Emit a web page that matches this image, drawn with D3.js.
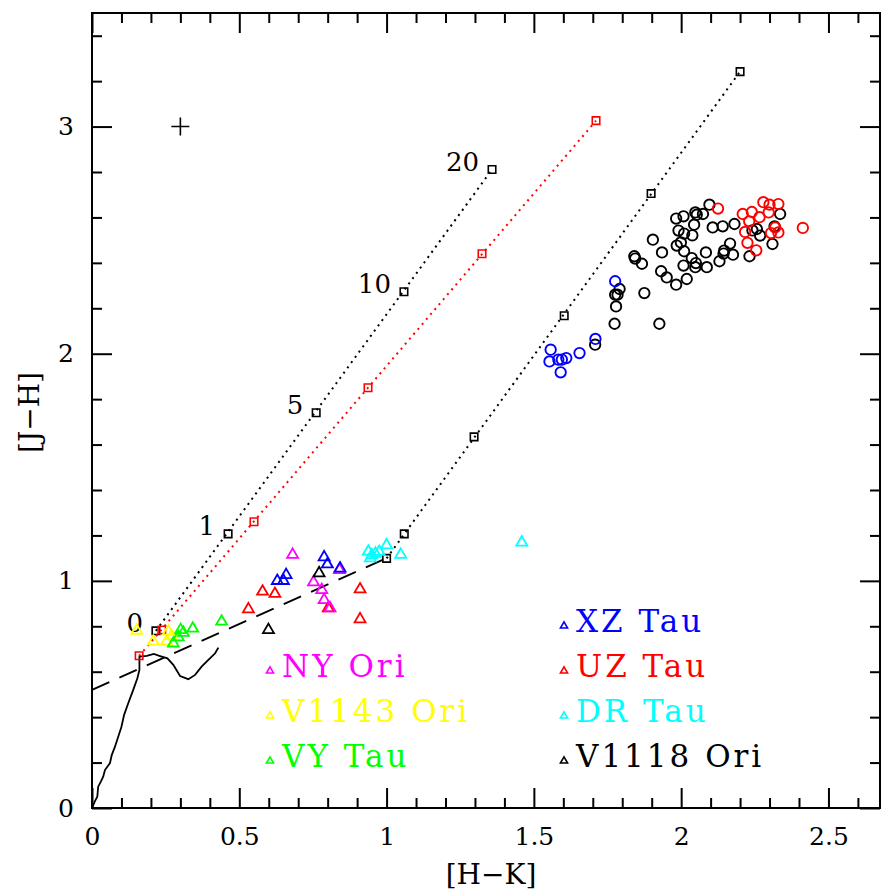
<!DOCTYPE html>
<html>
<head>
<meta charset="utf-8">
<script src="https://cdn.jsdelivr.net/npm/d3@7"></script>
<style>
  body { margin: 0; background: #fff; }
  text { font-family: "DejaVu Serif", serif; }
</style>
</head>
<body>
<script>
// chart data
const xMajor = [0, 0.5, 1, 1.5, 2, 2.5];
const yMajor = [0, 1, 2, 3];

const locus = [[0.002,0.006],[0.01,0.03],[0.018,0.05],[0.021,0.094],[0.03,0.116],[0.038,0.138],[0.044,0.167],
  [0.061,0.198],[0.067,0.233],[0.078,0.27],[0.089,0.314],[0.1,0.358],[0.109,0.41],[0.123,0.461],[0.14,0.52],
  [0.154,0.571],[0.161,0.608],[0.161,0.667],[0.186,0.67],[0.21,0.678],[0.231,0.669],[0.256,0.659],[0.276,0.63],
  [0.299,0.581],[0.327,0.567],[0.35,0.586],[0.372,0.622],[0.395,0.652],[0.418,0.681],[0.429,0.706]];
const cttsLine = [[0, 0.52], [1.0, 1.10]];

const redVector = [[0.16,0.67],[0.237,0.784],[0.55,1.26],[0.937,1.85],[1.324,2.44],[1.711,3.026]];
const upperVector = [[0.217,0.78],[0.462,1.207],[0.761,1.74],[1.059,2.273],[1.358,2.811]];
const upperLabels = ["0", "1", "5", "10", "20"];
const lowerVector = [[1.0,1.099],[1.06,1.207],[1.297,1.634],[1.603,2.167],[1.898,2.705],[2.2,3.242]];
const errCross = [0.30, 3.0];

const nyOri = [[0.681,1.115],[0.752,0.994],[0.78,0.96],[0.788,0.916],[0.808,0.88],[0.84,1.048]];
const v1143Ori = [[0.152,0.781],[0.208,0.733],[0.253,0.733],[0.259,0.777],[0.27,0.757]];
const vyTau = [[0.276,0.725],[0.293,0.752],[0.301,0.784],[0.31,0.772],[0.342,0.79],[0.44,0.821]];
const xzTau = [[0.629,1.0],[0.65,1.0],[0.659,1.026],[0.788,1.104],[0.799,1.073],[0.842,1.055]];
const uzTau = [[0.531,0.875],[0.579,0.953],[0.621,0.943],[0.802,0.88],[0.91,0.963],[0.91,0.831]];
const drTau = [[0.938,1.129],[0.95,1.113],[0.962,1.12],[0.945,1.10],[0.975,1.128],[1.0,1.157],[1.048,1.115],[1.459,1.169]];
const v1118Ori = [[0.599,0.784],[0.771,1.034]];

const xzTauCircles = [[1.557,2.018],[1.553,1.966],[1.583,1.974],[1.595,1.974],[1.61,1.981],[1.591,1.918],
  [1.655,2.003],[1.709,2.065],[1.776,2.319]];
const v1118OriCircles = [[1.708,2.04],[1.774,2.132],[1.779,2.208],[1.776,2.26],[1.784,2.26],[1.791,2.285],
  [1.926,2.132],[1.875,2.267],[1.841,2.429],[1.844,2.419],[1.867,2.396],[1.904,2.502],[1.935,2.446],
  [1.932,2.363],[1.951,2.336],[1.983,2.304],[2.019,2.329],[2.008,2.388],[1.985,2.476],[1.999,2.49],
  [2.01,2.451],[1.991,2.542],[2.01,2.529],[1.983,2.595],[2.008,2.605],[2.038,2.521],[2.044,2.568],
  [2.053,2.612],[2.048,2.622],[2.074,2.615],[2.096,2.656],[2.107,2.556],[2.141,2.561],[2.181,2.571],
  [2.036,2.421],[2.05,2.399],[2.048,2.381],[2.087,2.381],[2.084,2.446],[2.13,2.407],[2.144,2.441],
  [2.146,2.454],[2.166,2.485],[2.176,2.436],[2.232,2.429],[2.242,2.543],[2.257,2.549],[2.268,2.52],
  [2.317,2.561],[2.31,2.483],[2.336,2.615]];
const uzTauCircles = [[2.125,2.639],[2.209,2.615],[2.24,2.624],[2.266,2.601],[2.231,2.583],[2.279,2.667],
  [2.3,2.656],[2.33,2.659],[2.297,2.622],[2.217,2.536],[2.225,2.488],[2.255,2.455],[2.319,2.556],
  [2.305,2.531],[2.33,2.534],[2.413,2.554]];

const legendLeft = [["NY Ori", "#ff00ff"], ["V1143 Ori", "#ffff00"], ["VY Tau", "#00ff00"]];
const legendRight = [["XZ Tau", "#0000ff"], ["UZ Tau", "#ff0000"], ["DR Tau", "#00ffff"], ["V1118 Ori", "#000000"]];

const W = 882, H = 890;
const L = 92, R = 880, T = 13, B = 808;

const svg = d3.select("body").append("svg")
    .attr("width", W)
    .attr("height", H);

const x = d3.scaleLinear().domain([0, 2.675]).range([L, R]);
const y = d3.scaleLinear().domain([0, 3.5]).range([B, T]);

const xMinor = d3.range(0, 2.675, 0.1).filter(v => Math.abs(v*2 - Math.round(v*2)) > 1e-6);
const yMinor = d3.range(0, 3.5, 0.2).filter(v => Math.abs(v - Math.round(v)) > 1e-6);

// axes: ticks point inward on all four sides
function styleAxis(g) {
  g.select(".domain").remove();
  g.selectAll("line").attr("stroke", "#000").attr("stroke-width", 2);
  g.selectAll("text").attr("font-size", 25).attr("fill", "#000");
}
svg.append("g").attr("transform", `translate(0,${B})`)
    .call(d3.axisBottom(x).tickValues(xMinor).tickSize(-10).tickFormat(""))
    .call(styleAxis);
svg.append("g").attr("transform", `translate(0,${B})`)
    .call(d3.axisBottom(x).tickValues(xMajor).tickSize(-20).tickPadding(19).tickFormat(d3.format("")))
    .call(styleAxis);
svg.append("g").attr("transform", `translate(0,${T})`)
    .call(d3.axisTop(x).tickValues(xMinor).tickSize(-10).tickFormat(""))
    .call(styleAxis);
svg.append("g").attr("transform", `translate(0,${T})`)
    .call(d3.axisTop(x).tickValues(xMajor).tickSize(-20).tickFormat(""))
    .call(styleAxis);
svg.append("g").attr("transform", `translate(${L},0)`)
    .call(d3.axisLeft(y).tickValues(yMinor).tickSize(-10).tickFormat(""))
    .call(styleAxis);
svg.append("g").attr("transform", `translate(${L},0)`)
    .call(d3.axisLeft(y).tickValues(yMajor).tickSize(-20).tickPadding(18).tickFormat(d3.format("")))
    .call(styleAxis);
svg.append("g").attr("transform", `translate(${R},0)`)
    .call(d3.axisRight(y).tickValues(yMinor).tickSize(-10).tickFormat(""))
    .call(styleAxis);
svg.append("g").attr("transform", `translate(${R},0)`)
    .call(d3.axisRight(y).tickValues(yMajor).tickSize(-20).tickFormat(""))
    .call(styleAxis);

svg.append("rect")
    .attr("x", L).attr("y", T)
    .attr("width", R - L).attr("height", B - T)
    .attr("fill", "none").attr("stroke", "#000").attr("stroke-width", 2);

// axis titles
svg.append("text")
    .attr("x", (L + R) / 2 + 5).attr("y", 884)
    .attr("text-anchor", "middle").attr("font-size", 28)
    .text("[H−K]");
svg.append("text")
    .attr("transform", `translate(39,${(T + B) / 2 + 2}) rotate(-90)`)
    .attr("text-anchor", "middle").attr("font-size", 28)
    .text("[J−H]");

const line = d3.line().x(d => x(d[0])).y(d => y(d[1]));

// intrinsic locus and CTTS line
svg.append("path").datum(locus).attr("d", line)
    .attr("fill", "none").attr("stroke", "#000").attr("stroke-width", 1.8);
svg.append("path").datum(cttsLine).attr("d", line)
    .attr("fill", "none").attr("stroke", "#000").attr("stroke-width", 1.8)
    .attr("stroke-dasharray", "19,11");

// reddening vectors
function vector(pts, color) {
  svg.append("path").datum([pts[0], pts[pts.length - 1]]).attr("d", line)
      .attr("fill", "none").attr("stroke", color).attr("stroke-width", 2)
      .attr("stroke-dasharray", "2,4.5");
  svg.append("g").selectAll("path").data(pts).enter().append("path")
      .attr("d", d3.symbol(d3.symbolSquare, 56))
      .attr("transform", d => `translate(${x(d[0])},${y(d[1])})`)
      .attr("fill", "none").attr("stroke", color).attr("stroke-width", 1.6);
}
vector(upperVector, "#000");
vector(lowerVector, "#000");
vector(redVector, "#ff0000");

svg.append("g").selectAll("text").data(upperVector).enter().append("text")
    .attr("x", d => x(d[0]) - 13)
    .attr("y", d => y(d[1]) + 1)
    .attr("text-anchor", "end").attr("font-size", 26)
    .text((d, i) => upperLabels[i]);

// error cross
svg.append("path")
    .attr("d", `M${x(errCross[0]) - 9},${y(errCross[1])}H${x(errCross[0]) + 9}M${x(errCross[0])},${y(errCross[1]) - 9}V${y(errCross[1]) + 9}`)
    .attr("stroke", "#000").attr("stroke-width", 1.6);

// circles (later epoch)
function circles(pts, color) {
  svg.append("g").selectAll("circle").data(pts).enter().append("circle")
      .attr("cx", d => x(d[0])).attr("cy", d => y(d[1])).attr("r", 5.2)
      .attr("fill", "none").attr("stroke", color).attr("stroke-width", 1.9);
}
circles(v1118OriCircles, "#000");
circles(uzTauCircles, "#ff0000");
circles(xzTauCircles, "#0000ff");

// triangles
function triangles(pts, color) {
  svg.append("g").selectAll("path").data(pts).enter().append("path")
      .attr("d", d3.symbol(d3.symbolTriangle, 52))
      .attr("transform", d => `translate(${x(d[0])},${y(d[1])})`)
      .attr("fill", "none").attr("stroke", color).attr("stroke-width", 1.8);
}
triangles(v1143Ori, "#ffff00");
triangles(vyTau, "#00ff00");
triangles(uzTau, "#ff0000");
triangles(nyOri, "#ff00ff");
triangles(v1118Ori, "#000");
triangles(xzTau, "#0000ff");
triangles(drTau, "#00ffff");

// legends
function legend(items, x0, y0) {
  const g = svg.append("g").attr("transform", `translate(${x0},${y0})`);
  const row = g.selectAll("g").data(items).enter().append("g")
      .attr("transform", (d, i) => `translate(0,${i * 45})`);
  row.append("path")
      .attr("d", d3.symbol(d3.symbolTriangle, 22))
      .attr("transform", "translate(0,-6)")
      .attr("fill", "none").attr("stroke", d => d[1]).attr("stroke-width", 1.6);
  row.append("text")
      .attr("x", 12).attr("font-size", 31).attr("letter-spacing", 3)
      .attr("fill", d => d[1])
      .text(d => d[0]);
}
legend(legendLeft, 270, 677);
legend(legendRight, 564, 632);
</script>
</body>
</html>
